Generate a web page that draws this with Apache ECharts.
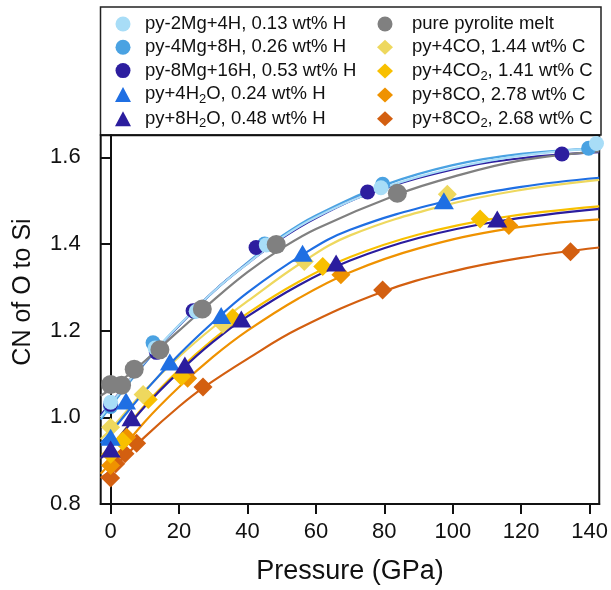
<!DOCTYPE html>
<html>
<head>
<meta charset="utf-8">
<script src="https://cdn.jsdelivr.net/npm/echarts@6/dist/echarts.min.js"></script>
<style>html,body{margin:0;padding:0;background:#fff}#c{width:611px;height:590px}</style>
</head>
<body>
<div id="c"></div>
<script>
// ---- axis ticks ----
const pressureTicks = [0, 20, 40, 60, 80, 100, 120, 140];
const cnTicks = [0.8, 1.0, 1.2, 1.4, 1.6];

// ---- series names ----
const namesLeft = ['py-2Mg+4H, 0.13 wt% H', 'py-4Mg+8H, 0.26 wt% H', 'py-8Mg+16H, 0.53 wt% H', 'py+4H2O, 0.24 wt% H', 'py+8H2O, 0.48 wt% H'];
const namesRight = ['pure pyrolite melt', 'py+4CO, 1.44 wt% C', 'py+4CO2, 1.41 wt% C', 'py+8CO, 2.78 wt% C', 'py+8CO2, 2.68 wt% C'];

// ---- data points (pressure GPa, CN) ----
const lightBlueP = [0, 13, 25, 45.5, 79, 142];
const lightBlueCN = [1.035, 1.16, 1.245, 1.398, 1.53, 1.632];
const medBlueP = [0, 12.4, 24.5, 45, 79.5, 139.7];
const medBlueCN = [1.025, 1.172, 1.245, 1.40, 1.538, 1.621];
const darkBlueP = [0, 13.4, 24.1, 42.5, 75.1, 131.9];
const darkBlueCN = [1.03, 1.15, 1.246, 1.392, 1.52, 1.608];
const h2o4P = [0, 4.5, 17.3, 32.3, 56.1, 97.4];
const h2o4CN = [0.954, 1.038, 1.128, 1.235, 1.379, 1.50];
const h2o8P = [0, 6.1, 21.7, 38.2, 65.9, 113];
const h2o8CN = [0.927, 0.999, 1.121, 1.227, 1.356, 1.458];
const pureP = [0, 3.2, 6.9, 14.4, 26.8, 48.4, 83.8];
const pureCN = [1.076, 1.074, 1.111, 1.156, 1.250, 1.399, 1.517];
const co4P = [0, 9.5, 32.8, 56.6, 98.4];
const co4CN = [0.977, 1.053, 1.215, 1.36, 1.515];
const co24P = [0, 3.5, 11, 20.7, 35.7, 62, 108];
const co24CN = [0.915, 0.945, 1.041, 1.094, 1.23, 1.348, 1.458];
const co8P = [0, 4.7, 22.5, 67.3, 116.4];
const co8CN = [0.889, 0.954, 1.09, 1.329, 1.443];
const co28P = [0, 1.5, 4.2, 7.6, 27, 79.5, 134.4];
const co28CN = [0.86, 0.893, 0.916, 0.94, 1.07, 1.294, 1.382];

// ---- fitted curves ----
const lightBlueFitP = [-2.9, 0, 10, 20, 30, 40, 50, 60, 80, 100, 120, 142.8];
const lightBlueFitCN = [1.0, 1.03, 1.128, 1.213, 1.29, 1.355, 1.415, 1.462, 1.53, 1.575, 1.604, 1.622];
const medBlueFitP = [-2.9, 0, 10, 20, 30, 40, 50, 60, 80, 100, 120, 142.8];
const medBlueFitCN = [0.995, 1.025, 1.125, 1.212, 1.29, 1.357, 1.418, 1.466, 1.536, 1.582, 1.608, 1.621];
const darkBlueFitP = [-2.9, 0, 10, 20, 30, 40, 50, 60, 75, 100, 120, 142.8];
const darkBlueFitCN = [1.005, 1.032, 1.127, 1.212, 1.29, 1.355, 1.413, 1.46, 1.515, 1.572, 1.598, 1.612];
const h2o4FitP = [-2.9, 0, 10, 20, 30, 40, 56, 70, 97, 120, 142.8];
const h2o4FitCN = [0.94, 0.965, 1.06, 1.145, 1.22, 1.288, 1.375, 1.433, 1.497, 1.532, 1.553];
const h2o8FitP = [-2.9, 0, 10, 20, 30, 40, 55, 70, 90, 113, 142.8];
const h2o8FitCN = [0.905, 0.93, 1.025, 1.105, 1.175, 1.233, 1.305, 1.362, 1.414, 1.452, 1.481];
const pureFitP = [-2.9, 0, 10, 20, 30, 40, 50, 60, 84, 100, 120, 142.8];
const pureFitCN = [1.05, 1.065, 1.13, 1.2, 1.27, 1.335, 1.39, 1.435, 1.515, 1.555, 1.593, 1.614];
const co4FitP = [-2.9, 0, 10, 20, 30, 40, 56, 70, 97, 120, 142.8];
const co4FitCN = [0.95, 0.972, 1.062, 1.14, 1.208, 1.268, 1.358, 1.42, 1.488, 1.525, 1.548];
const co24FitP = [-2.9, 0, 10, 20, 30, 40, 55, 70, 90, 113, 142.8];
const co24FitCN = [0.905, 0.93, 1.028, 1.11, 1.18, 1.24, 1.313, 1.37, 1.422, 1.46, 1.487];
const co8FitP = [-2.9, 0, 10, 20, 30, 40, 55, 70, 90, 116, 142.8];
const co8FitCN = [0.87, 0.895, 0.99, 1.07, 1.14, 1.2, 1.275, 1.335, 1.39, 1.435, 1.457];
const co28FitP = [-2.9, 0, 10, 20, 27, 40, 55, 79.5, 100, 120, 142.8];
const co28FitCN = [0.86, 0.878, 0.955, 1.025, 1.068, 1.135, 1.205, 1.29, 1.337, 1.368, 1.392];

const zip = (a, b) => a.map((v, i) => [v, b[i]]);

// series spec: draw order back-to-front
const specs = [
  {name: namesRight[4], color: '#d35f10', symbol: 'diamond', size: 19, P: co28P, CN: co28CN, fP: co28FitP, fCN: co28FitCN},
  {name: namesRight[3], color: '#ef9200', symbol: 'diamond', size: 19, P: co8P, CN: co8CN, fP: co8FitP, fCN: co8FitCN},
  {name: namesRight[2], color: '#f8c000', symbol: 'diamond', size: 19, P: co24P, CN: co24CN, fP: co24FitP, fCN: co24FitCN},
  {name: namesRight[1], color: '#eed85e', symbol: 'diamond', size: 19, P: co4P, CN: co4CN, fP: co4FitP, fCN: co4FitCN},
  {name: namesLeft[1], color: '#4aa2e2', symbol: 'circle', size: 15, P: medBlueP, CN: medBlueCN, fP: medBlueFitP, fCN: medBlueFitCN},
  {name: namesLeft[2], color: '#2d1e9f', symbol: 'circle', size: 15, P: darkBlueP, CN: darkBlueCN, fP: darkBlueFitP, fCN: darkBlueFitCN},
  {name: namesLeft[0], color: '#a8ddf7', symbol: 'circle', size: 15, P: lightBlueP, CN: lightBlueCN, fP: lightBlueFitP, fCN: lightBlueFitCN},
  {name: namesLeft[3], color: '#1f6fe3', symbol: 'triangle', size: [20, 17], P: h2o4P, CN: h2o4CN, fP: h2o4FitP, fCN: h2o4FitCN},
  {name: namesLeft[4], color: '#2b1d9e', symbol: 'triangle', size: [20, 17], P: h2o8P, CN: h2o8CN, fP: h2o8FitP, fCN: h2o8FitCN},
  {name: namesRight[0], color: '#808080', symbol: 'circle', size: 19, P: pureP, CN: pureCN, fP: pureFitP, fCN: pureFitCN}
];

const series = [];
specs.forEach((s, i) => {
  series.push({
    type: 'line', name: s.name + ' fit', data: zip(s.fP, s.fCN), smooth: 0.4,
    showSymbol: false, symbol: 'none', silent: true, z: 2,
    lineStyle: {color: s.color, width: 2.2}, itemStyle: {color: s.color}
  });
});
specs.forEach((s, i) => {
  series.push({
    type: 'scatter', name: s.name, data: zip(s.P, s.CN), symbol: s.symbol, symbolSize: s.size,
    itemStyle: {color: s.color, opacity: 1}, z: 3 + i, clip: true
  });
});

const iconOf = n => { const s = specs.find(x => x.name === n); return s.symbol; };
const fmt = n => n.replace(/(H|CO)2/, '$1{s|2}');
const FONT = 'Liberation Sans, Arial, sans-serif';
const legendText = (padL) => ({
  fontFamily: FONT, fontSize: 18.5, color: '#111', lineHeight: 22, padding: [0, 0, 0, padL],
  rich: {s: {fontFamily: FONT, fontSize: 13, color: '#111', lineHeight: 12, padding: [10, 0, 0, 0]}}
});

const chart = echarts.init(document.getElementById('c'), null, {renderer: 'canvas'});
chart.setOption({
  animation: false,
  backgroundColor: '#fff',
  grid: {left: 100.7, right: 10.3, top: 135.3, bottom: 81, show: true, borderColor: '#111', borderWidth: 2, backgroundColor: 'transparent'},
  legend: [
    {orient: 'vertical', left: 115, top: 13, padding: 0, itemGap: 1.3, itemWidth: 16, itemHeight: 15, symbolKeepAspect: true,
     data: namesLeft.map(n => ({name: n, icon: iconOf(n)})), formatter: fmt, textStyle: legendText(9), selectedMode: false},
    {orient: 'vertical', left: 377, top: 13, padding: 0, itemGap: 1.3, itemWidth: 16, itemHeight: 15, symbolKeepAspect: true,
     data: namesRight.map(n => ({name: n, icon: iconOf(n)})), formatter: fmt, textStyle: legendText(14), selectedMode: false}
  ],
  graphic: [
    {type: 'rect', shape: {x: 100.5, y: 7, width: 500.5, height: 128}, style: {fill: '#fff', stroke: '#222', lineWidth: 1.5}, z: -1},
    {type: 'text', x: 23, y: 292, rotation: Math.PI / 2,
     style: {text: 'CN of O to Si', font: '25px ' + FONT, fill: '#111', align: 'center', verticalAlign: 'middle'}}
  ],
  xAxis: {
    type: 'value', min: -2.9, max: 142.8,
    name: 'Pressure (GPa)', nameLocation: 'middle', nameGap: 54,
    nameTextStyle: {fontFamily: FONT, fontSize: 27, color: '#111'},
    axisLine: {show: true, lineStyle: {color: '#111', width: 2}},
    axisTick: {show: true, customValues: pressureTicks, length: 10, lineStyle: {color: '#111', width: 2}},
    axisLabel: {customValues: pressureTicks, fontFamily: FONT, fontSize: 22, color: '#111', margin: 17},
    splitLine: {show: false}
  },
  yAxis: {
    type: 'value', min: 0.8, max: 1.651,
    axisLine: {show: true, lineStyle: {color: '#111', width: 2}},
    axisTick: {show: true, customValues: cnTicks, length: 10, lineStyle: {color: '#111', width: 2}},
    axisLabel: {customValues: cnTicks, fontFamily: FONT, fontSize: 22, color: '#111', margin: 20, formatter: v => v.toFixed(1)},
    splitLine: {show: false}
  },
  series: series
});
</script>
</body>
</html>
